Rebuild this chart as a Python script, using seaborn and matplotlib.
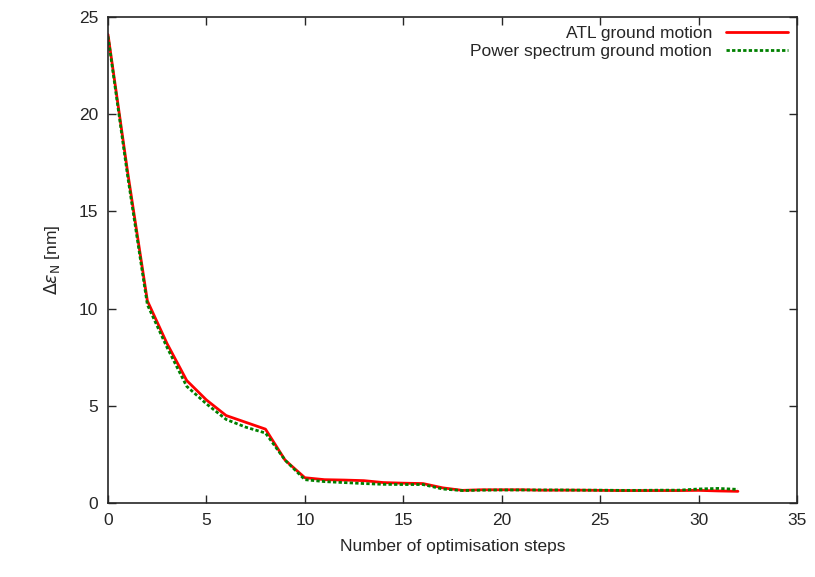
import matplotlib

matplotlib.use("Agg")
import matplotlib.pyplot as plt
import numpy as np
import pandas as pd
import seaborn as sns

steps = list(range(33))
atl = [24.1, 17.0, 10.4, 8.2, 6.3, 5.3, 4.5, 4.15, 3.8, 2.2, 1.3, 1.2, 1.18, 1.15, 1.05, 1.02, 1.0,
       0.78, 0.65, 0.68, 0.68, 0.68, 0.66, 0.66, 0.66, 0.65, 0.64, 0.64, 0.64, 0.64, 0.65, 0.62, 0.6]
power = [24.0, 16.8, 10.2, 8.0, 6.0, 5.1, 4.3, 3.9, 3.6, 2.2, 1.2, 1.1, 1.05, 1.0, 0.96, 0.95, 0.95,
         0.72, 0.64, 0.66, 0.67, 0.67, 0.67, 0.67, 0.66, 0.66, 0.65, 0.65, 0.66, 0.66, 0.72, 0.75, 0.7]

df = pd.DataFrame({"step": steps, "ATL ground motion": atl, "Power spectrum ground motion": power})

sns.set_style("ticks")
plt.rcParams["font.family"] = ["Liberation Sans", "DejaVu Sans"]

fig = plt.figure(figsize=(8.15, 5.77), dpi=100)
ax = fig.add_axes([108 / 815, 1 - 503 / 577, (797 - 108) / 815, (503 - 17) / 577])
sns.lineplot(data=df, x="step", y="ATL ground motion", ax=ax, color="#ff0000", lw=2,
             label="ATL ground motion")
sns.lineplot(data=df, x="step", y="Power spectrum ground motion", ax=ax, color="#008000", lw=2,
             linestyle=(0, (1.2, 0.8)), label="Power spectrum ground motion")

ax.set_xlim(0, 35)
ax.set_ylim(0, 25)
ax.set_xticks(range(0, 36, 5))
ax.set_yticks(range(0, 26, 5))
ax.tick_params(direction="in", top=True, right=True, labelsize=12.5, length=6, pad=7, width=1)
for s in ax.spines.values():
    s.set_linewidth(1.2)
ax.set_xlabel("Number of optimisation steps", fontsize=12.5, labelpad=8)
ax.set_ylabel(r"$\Delta\varepsilon_\mathrm{N}$ [nm]", fontsize=12.5, labelpad=12)
leg = ax.legend(loc="upper right", frameon=False, fontsize=12.5, markerfirst=False,
                handlelength=3.6, borderaxespad=0.1, labelspacing=0.15, handletextpad=0.8)
for t in leg.get_texts():
    t.set_ha("right")
fig.savefig("out.png", dpi=100)
